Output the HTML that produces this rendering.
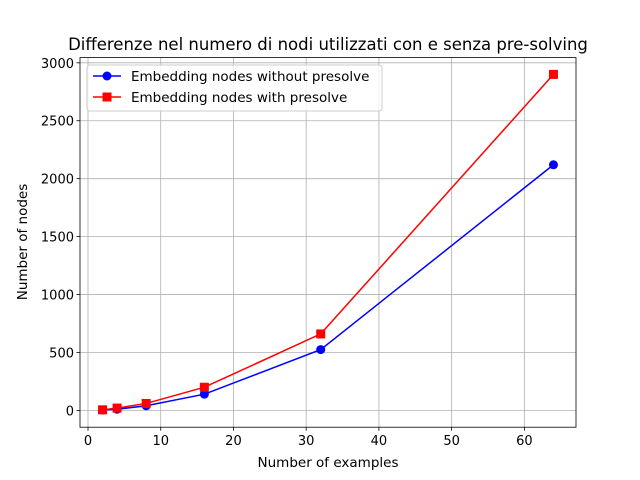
<!DOCTYPE html>
<html><head><meta charset="utf-8"><style>body{margin:0;background:#fff}svg{display:block;font-family:"DejaVu Sans","Liberation Sans",sans-serif}</style></head>
<body>
<svg id="chart" width="640" height="480" xmlns="http://www.w3.org/2000/svg">
<rect width="640" height="480" fill="#fff"/>
<text x="328" y="50" font-size="16.5" text-anchor="middle">Differenze nel numero di nodi utilizzati con e senza pre-solving</text>
<g id="grid"></g><g id="ticks"></g><g id="series"></g>
<rect x="80" y="57.6" width="496" height="369.6" fill="none" stroke="#000" stroke-width="0.8"/>
<text x="328" y="467" font-size="13.5" text-anchor="middle">Number of examples</text>
<text transform="translate(27,242) rotate(-90)" font-size="13.5" text-anchor="middle">Number of nodes</text>
<g>
<rect x="87" y="65" width="295" height="46" rx="3" fill="#fff" fill-opacity="0.8" stroke="#ccc"/>
<g>
<line x1="93" y1="76" x2="121" y2="76" stroke="#0000ff" stroke-width="1.5"/><circle cx="107" cy="76" r="4.5" fill="#0000ff"/>
<text x="131" y="81" font-size="13.5">Embedding nodes without presolve</text></g>
<g>
<line x1="93" y1="97" x2="121" y2="97" stroke="#ff0000" stroke-width="1.5"/><rect x="102.5" y="92.5" width="9" height="9" fill="#ff0000"/>
<text x="131" y="102" font-size="13.5">Embedding nodes with presolve</text></g>
</g>
</svg>
<script>
const xValues=[2,4,8,16,32,64];
const withoutPresolve=[3,10,40,140,525,2120];
const withPresolve=[5,20,60,200,660,2900];
const xTicks=[0,10,20,30,40,50,60];
const yTicks=[0,500,1000,1500,2000,2500,3000];
const NS='http://www.w3.org/2000/svg';
const L=80,R=576,T=57.6,B=427.2;
const allX=xValues,allY=withoutPresolve.concat(withPresolve);
const xmn=Math.min(...allX),xmx=Math.max(...allX),xm=(xmx-xmn)*0.05;
const ymn=Math.min(0,...allY),ymx=Math.max(...allY),ym=(ymx-ymn)*0.05;
const x0=xmn-xm,x1=xmx+xm,y0=ymn-ym,y1=ymx+ym;
function sx(v){return L+(v-x0)/(x1-x0)*(R-L);}
function sy(v){return B-(v-y0)/(y1-y0)*(B-T);}
function mk(tag,attrs,parent){const e=document.createElementNS(NS,tag);for(const k in attrs)e.setAttribute(k,attrs[k]);parent.appendChild(e);return e;}
const grid=document.getElementById('grid'),ticks=document.getElementById('ticks'),ser=document.getElementById('series');
xTicks.forEach(v=>{const x=sx(v);
const g=mk('line',{x1:x,x2:x,y1:T,y2:B,stroke:'#b0b0b0','stroke-width':0.8},grid);


mk('line',{x1:x,x2:x,y1:B,y2:B+3.5,stroke:'#000','stroke-width':0.8},ticks);
const t=mk('text',{x:x,y:B+18,'font-size':13,'text-anchor':'middle'},ticks);t.textContent=v;

});
yTicks.forEach(v=>{const y=sy(v);
const g=mk('line',{x1:L,x2:R,y1:y,y2:y,stroke:'#b0b0b0','stroke-width':0.8},grid);


mk('line',{x1:L-3.5,x2:L,y1:y,y2:y,stroke:'#000','stroke-width':0.8},ticks);
const t=mk('text',{x:L-6,y:y+5,'font-size':13,'text-anchor':'end'},ticks);t.textContent=v;

});
function draw(vals,color,marker,name){
const g=mk('g',{},ser);


const pl=mk('polyline',{points:xValues.map((x,i)=>sx(x)+','+sy(vals[i])).join(' '),fill:'none',stroke:color,'stroke-width':1.5},g);


xValues.forEach((x,i)=>{let m;
if(marker==='o')m=mk('circle',{cx:sx(x),cy:sy(vals[i]),r:4.5,fill:color},g);
else m=mk('rect',{x:sx(x)-4.5,y:sy(vals[i])-4.5,width:9,height:9,fill:color},g);

});}
draw(withoutPresolve,'#0000ff','o','series-without-presolve');
draw(withPresolve,'#ff0000','s','series-with-presolve');
</script>
</body></html>
